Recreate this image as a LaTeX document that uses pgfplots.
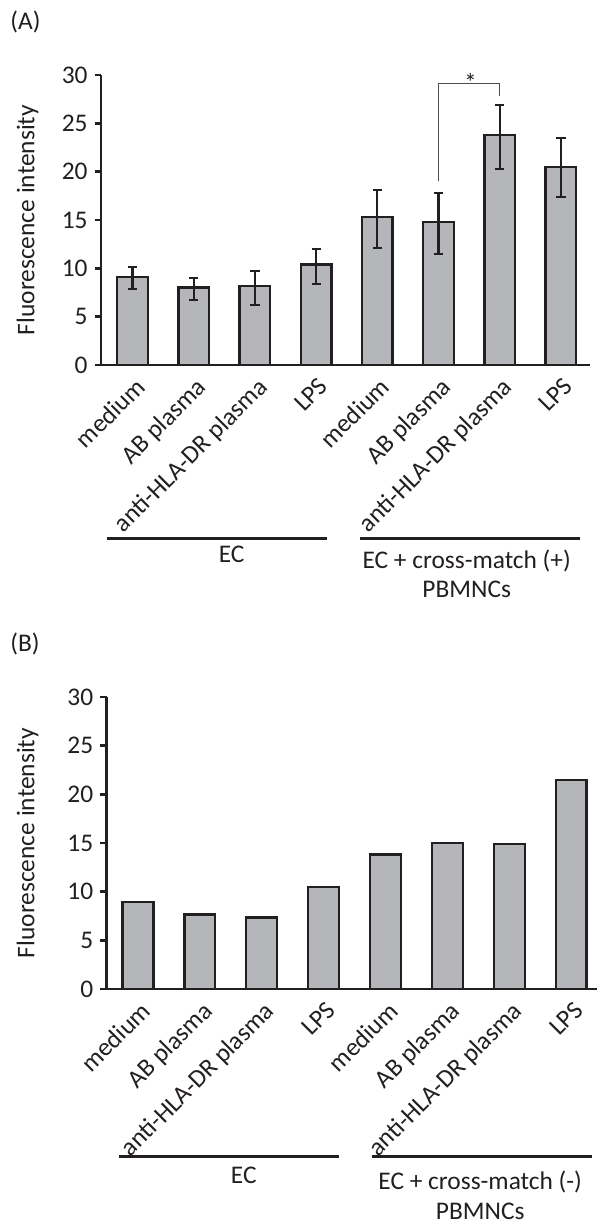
\documentclass[border=0pt]{standalone}
\usepackage{fontspec}
\setmainfont{Carlito}
\usepackage{pgfplots}
\pgfplotsset{compat=1.18}

\definecolor{barfill}{RGB}{181,182,186}
\definecolor{ink}{RGB}{35,31,32}
\newcommand{\chartfont}{\fontsize{12.7}{15}\selectfont}

\pgfplotsset{
  panel/.style={
    scale only axis,
    ybar, bar width=0.5,
    ymin=0, ymax=30, ytick={0,5,...,30},
    axis x line=bottom, axis y line=left,
    axis line style={-, line width=1.2pt, ink},
    tick align=outside, major tick length=3.2pt,
    ytick style={line width=1.2pt, ink},
    xtick={0,...,7}, xtick style={draw=none},
    xticklabels={medium, AB plasma, anti-HLA-DR plasma, LPS,
                 medium, AB plasma, anti-HLA-DR plasma, LPS},
    xticklabel style={rotate=45, anchor=north east, inner sep=1pt, yshift=-1pt},
    tick label style={font=\chartfont, text=ink},
    label style={font=\chartfont, text=ink},
    /pgf/number format/assume math mode=true,
    ylabel={Fluorescence intensity},
    clip=false,
  },
  barstyle/.style={fill=barfill, draw=ink, line width=1.2pt},
}

\begin{document}
\begin{tikzpicture}
\useasboundingbox (0,0) rectangle (298.5pt,-611.5pt);

\node[anchor=base west, inner sep=0pt, font=\chartfont, text=ink] at (5pt,-14.5pt) {(A)};
\node[anchor=base west, inner sep=0pt, font=\chartfont, text=ink] at (5pt,-325.5pt) {(B)};

% (A) EC with cross-match (+) PBMNCs
\begin{axis}[panel,
  at={(50.5pt,-182.5pt)}, anchor=south west,
  width=244.5pt, height=145pt,
  xmin=-0.515, xmax=7.475,
  ylabel style={at={(axis description cs:-0.150,0.5)}, anchor=center},
]
\addplot[barstyle,
  error bars/.cd, y dir=both, y explicit,
  error bar style={line width=1.1pt, ink},
  error mark options={rotate=90, mark size=2.3pt, line width=1.1pt, ink}]
coordinates {
  (0,9.10)  += (0,1.00) -= (0,1.27)
  (1,8.00)  += (0,0.97) -= (0,1.28)
  (2,8.17)  += (0,1.59) -= (0,1.96)
  (3,10.38) += (0,1.59) -= (0,1.97)
  (4,15.31) += (0,2.83) -= (0,3.24)
  (5,14.79) += (0,3.04) -= (0,3.31)
  (6,23.79) += (0,3.07) -= (0,3.51)
  (7,20.48) += (0,3.04) -= (0,3.14)
};
\draw[line width=0.6pt, black!70] (axis cs:5,19.0) |- (axis cs:6,29.1) -- (axis cs:6,27.8);
\node[anchor=base, inner sep=0pt, font=\chartfont, text=ink] at (axis cs:5.52,28.3) {*};
\draw[line width=1.5pt, ink] (axis cs:-0.42,-17.9) -- (axis cs:3.18,-17.9);
\draw[line width=1.5pt, ink] (axis cs:3.72,-17.9) -- (axis cs:7.31,-17.9);
\node[anchor=base, inner sep=0pt, font=\chartfont, text=ink] at (axis cs:1.62,-20.4) {EC};
\node[anchor=base, inner sep=0pt, font=\chartfont, text=ink] at (axis cs:5.46,-21.0) {EC + cross-match (+)};
\node[anchor=base, inner sep=0pt, font=\chartfont, text=ink] at (axis cs:5.46,-24.1) {PBMNCs};
\end{axis}

% (B) EC with cross-match (-) PBMNCs
\begin{axis}[panel,
  at={(53.3pt,-494.5pt)}, anchor=south west,
  width=245.2pt, height=146pt,
  xmin=-0.506, xmax=7.417,
  ylabel style={at={(axis description cs:-0.161,0.5)}, anchor=center},
]
\addplot[barstyle] coordinates {
  (0,8.95) (1,7.67) (2,7.36) (3,10.48)
  (4,13.80) (5,15.03) (6,14.90) (7,21.50)
};
\draw[line width=1.5pt, ink] (axis cs:-0.305,-17.16) -- (axis cs:3.25,-17.16);
\draw[line width=1.5pt, ink] (axis cs:3.78,-17.16) -- (axis cs:7.34,-17.16);
\node[anchor=base, inner sep=0pt, font=\chartfont, text=ink] at (axis cs:1.71,-20.0) {EC};
\node[anchor=base, inner sep=0pt, font=\chartfont, text=ink] at (axis cs:5.53,-20.6) {EC + cross-match (-)};
\node[anchor=base, inner sep=0pt, font=\chartfont, text=ink] at (axis cs:5.53,-23.7) {PBMNCs};
\end{axis}
\end{tikzpicture}
\end{document}
